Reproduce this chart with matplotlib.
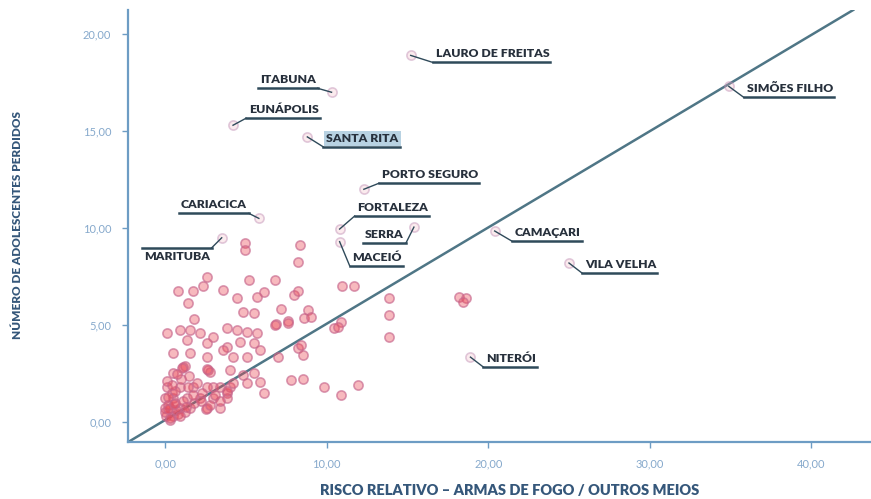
import matplotlib
matplotlib.use("Agg")
import matplotlib.pyplot as plt

plt.rcParams["font.family"] = ["Lato", "DejaVu Sans"]

# labelled municipalities
city_names = ["LAURO DE FREITAS", "ITABUNA", "EUNÁPOLIS", "SANTA RITA", "SIMÕES FILHO",
              "PORTO SEGURO", "FORTALEZA", "SERRA", "MACEIÓ", "CAMAÇARI",
              "VILA VELHA", "NITERÓI", "CARIACICA", "MARITUBA"]
city_x = [15.2, 10.3, 4.2, 8.8, 34.9, 12.3, 10.8, 15.4, 10.8, 20.4, 25.0, 18.9, 5.8, 3.5]
city_y = [18.9, 17.0, 15.3, 14.7, 17.3, 12.0, 9.95, 10.05, 9.3, 9.85, 8.2, 3.35, 10.5, 9.5]

# remaining municipalities
other_x = [4.97, 4.97, 8.32, 8.2, 2.6, 0.8, 1.74, 2.36, 3.6, 5.2, 6.83, 6.09, 4.47, 5.71,
           7.95, 8.2, 10.93, 11.68, 13.85, 13.85, 13.85, 18.2, 18.63, 18.45, 7.14, 8.82,
           4.84, 5.47, 1.43, 1.8, 6.89, 7.58, 8.57, 9.0, 10.43, 10.87, 10.68, 0.12, 0.93,
           1.55, 2.17, 2.98, 3.85, 4.47, 5.09, 5.71, 6.83, 7.58, 5.47, 3.85, 4.66, 5.9,
           2.61, 1.37, 0.5, 1.55, 2.61, 3.6, 4.22, 5.09, 6.96, 8.2, 8.51, 8.39, 1.12, 1.2,
           1.05, 2.67, 2.75, 2.6, 0.5, 4.04, 4.84, 5.47, 5.09, 5.9, 7.76, 8.51, 9.81,
           10.87, 11.93, 6.09, 3.85, 2.98,
           0.12, 0.93, 1.74, 2.61, 3.42, 4.04,
           0.0, 0.5, 1.37, 2.17, 2.98, 3.85,
           0.0, 0.31, 0.93, 1.55, 2.61, 3.42,
           0.05, 0.5, 0.3, 0.0, 0.2, 0.6, 0.4, 0.8, 0.1, 1.0, 1.5, 2.0, 2.3, 1.8, 1.2,
           2.5, 2.8, 3.4, 3.8, 4.2,
           0.3, 0.7, 0.2, 0.6, 1.1, 0.4, 0.9, 1.4, 0.15, 0.55, 1.7, 2.2, 3.1, 1.3, 0.75]
other_y = [9.23, 8.87, 9.12, 8.25, 7.47, 6.75, 6.75, 7.01, 6.8, 7.3, 7.32, 6.7, 6.39, 6.44,
           6.55, 6.75, 7.01, 7.01, 6.39, 5.52, 4.38, 6.44, 6.39, 6.19, 5.82, 5.77,
           5.67, 5.62, 6.13, 5.31, 5.05, 5.21, 5.36, 5.41, 4.85, 5.15, 4.9, 4.59, 4.74,
           4.74, 4.59, 4.38, 4.85, 4.74, 4.64, 4.59, 5.0, 5.1, 4.07, 3.87, 4.12, 3.71,
           4.07, 4.23, 3.56, 3.56, 3.35, 3.71, 3.35, 3.35, 3.35, 3.81, 3.45, 3.97, 2.84, 2.9,
           2.78, 2.68, 2.6, 2.75, 2.53, 2.68, 2.42, 2.53, 2.01, 2.06, 2.16, 2.22, 1.8,
           1.39, 1.91, 1.49, 1.49, 1.8,
           1.8, 1.8, 1.8, 1.8, 1.8, 1.8,
           1.24, 1.24, 1.24, 1.24, 1.24, 1.24,
           0.72, 0.72, 0.72, 0.72, 0.72, 0.72,
           0.31, 0.31, 0.1, 0.5, 0.9, 1.0, 1.5, 0.4, 2.1, 2.2, 2.4, 2.0, 1.5, 1.0, 0.5,
           0.7, 0.9, 1.1, 1.6, 2.0,
           0.2, 0.6, 1.3, 1.6, 1.1, 1.9, 0.3, 1.8, 0.7, 0.95, 1.4, 1.1, 1.4, 0.8, 2.5]

# equal-risk diagonal
diag_x = [-2.3, 42.6]
diag_y = [-1.03, 21.24]

x_ticks = [0, 10, 20, 30, 40]
y_ticks = [0, 5, 10, 15, 20]

# leader layout: pixel offset from point to elbow, side of the underline
leaders = {
    "LAURO DE FREITAS": (22, -7, "right"),
    "ITABUNA": (-14, 4, "left"),
    "EUNÁPOLIS": (13, 7, "right"),
    "SANTA RITA": (16, -10, "right"),
    "SIMÕES FILHO": (15, -11, "right"),
    "PORTO SEGURO": (15, 6, "right"),
    "FORTALEZA": (15, 13, "right"),
    "SERRA": (-8, -16, "left"),
    "MACEIÓ": (10, -24, "right"),
    "CAMAÇARI": (17, -10, "right"),
    "VILA VELHA": (13, -10, "right"),
    "NITERÓI": (13, -10, "right"),
    "CARIACICA": (-10, 5, "left"),
    "MARITUBA": (-10, -10, "below"),
}

axis_blue = "#6d9cc4"
line_dark = "#2f4a5a"
text_dark = "#27303c"

fig = plt.figure(figsize=(8.71, 4.99), dpi=100)
ax = fig.add_axes([0.147, 0.114, 0.853, 0.866])
ax.set_xlim(-2.3, 43.7)
ax.set_ylim(-1.03, 21.24)

for side in ["top", "right"]:
    ax.spines[side].set_visible(False)
for side in ["left", "bottom"]:
    ax.spines[side].set_color(axis_blue)
    ax.spines[side].set_linewidth(1.6)

ax.set_xticks(x_ticks)
ax.set_yticks(y_ticks)
ax.set_xticklabels([f"{v:.2f}".replace(".", ",") for v in x_ticks])
ax.set_yticklabels([f"{v:.2f}".replace(".", ",") for v in y_ticks])
ax.tick_params(direction="out", length=4, width=1, color=axis_blue,
               labelcolor="#86a9cc", labelsize=8, pad=8)

ax.plot(diag_x, diag_y, color="#4f7686", lw=1.8, zorder=2)

ax.scatter(other_x, other_y, s=44, facecolor=(0.92, 0.28, 0.33, 0.38),
           edgecolor=(0.78, 0.40, 0.55, 0.65), linewidths=1.2, zorder=3)
ax.scatter(city_x, city_y, s=44, facecolor=(0.95, 0.7, 0.75, 0.25),
           edgecolor=(0.75, 0.55, 0.7, 0.45), linewidths=1.2, zorder=3)

fig.canvas.draw()
renderer = fig.canvas.get_renderer()
to_disp = ax.transData.transform
to_data = ax.transData.inverted().transform

for name, x, y in zip(city_names, city_x, city_y):
    dx, dy, side = leaders[name]
    px, py = to_disp((x, y))
    ex, ey = px + dx, py + dy
    t = ax.text(0, 0, name, fontsize=8.8, fontweight="heavy", color=text_dark, zorder=5)
    if name == "SANTA RITA":
        t.set_bbox(dict(facecolor="#b8d2e2", edgecolor="none", pad=1.5))
    w = t.get_window_extent(renderer).width
    if side == "right":
        x0, x1 = ex, ex + w + 4
        tx, ty, ha, va = ex + 3, ey + 3, "left", "bottom"
    elif side == "left":
        x0, x1 = ex - w - 4, ex
        tx, ty, ha, va = ex - 2, ey + 3, "right", "bottom"
    else:
        x0, x1 = ex - w - 4, ex
        tx, ty, ha, va = ex - 2, ey - 3, "right", "top"
    t.set_position(to_data((tx, ty)))
    t.set_ha(ha)
    t.set_va(va)
    lead = to_data([(px, py), (ex, ey)])
    ax.plot(lead[:, 0], lead[:, 1], color=line_dark, lw=1.0, zorder=4, clip_on=False)
    under = to_data([(x0, ey), (x1, ey)])
    ax.plot(under[:, 0], under[:, 1], color=line_dark, lw=1.8, zorder=4, clip_on=False)

fig.text(0.585, 0.018, "RISCO RELATIVO – ARMAS DE FOGO / OUTROS MEIOS",
         ha="center", va="center", fontsize=10.5, fontweight="heavy", color="#35577a")
fig.text(0.02, 0.55, "NÚMERO DE ADOLESCENTES PERDIDOS", rotation=90,
         ha="center", va="center", fontsize=8.5, fontweight="heavy", color="#35577a")

fig.savefig("out.png", dpi=100)
